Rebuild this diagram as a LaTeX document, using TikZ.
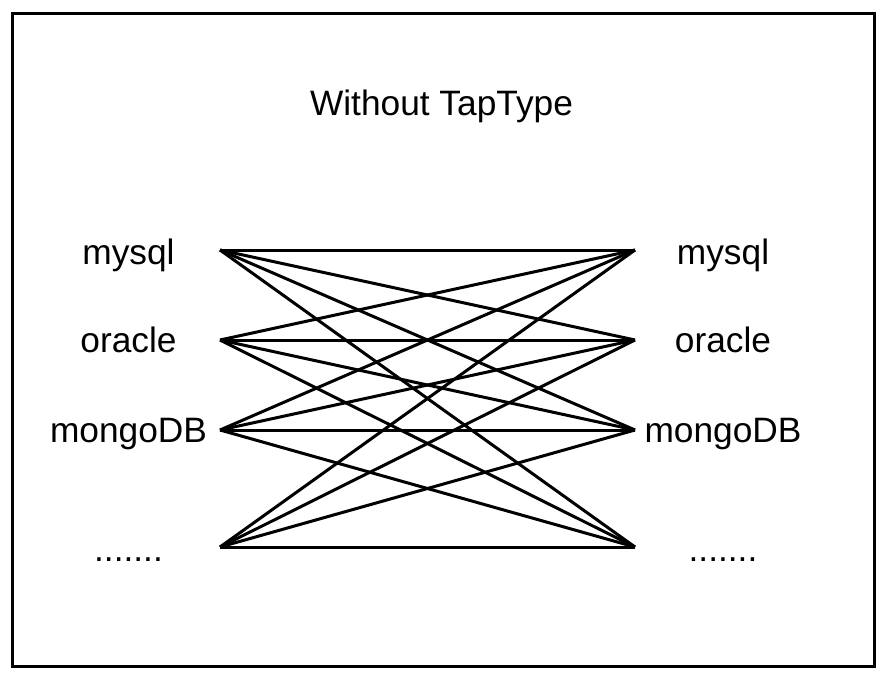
\documentclass[tikz,border=0pt]{standalone}
\usepackage{fontspec}
\setmainfont{Liberation Sans}
\newcommand{\moredots}{.......}
\begin{document}
\begin{tikzpicture}[x=1pt,y=-1pt,line width=3pt,
    lbl/.style={anchor=base,inner sep=0pt,font=\fontsize{35.3}{42}\selectfont}]
        \useasboundingbox (0,0) rectangle (886,680);
        \draw (12,13) rectangle (874,666);
        \node[lbl] (title) at (441.5,115) {Without TapType};
        % databases on both sides
        \foreach \i/\y/\b/\t in {1/250/264/mysql,2/340/352/oracle,3/430/442/mongoDB,4/547/561/\moredots}{
          \coordinate (L\i) at (220,\y);
          \coordinate (R\i) at (635,\y);
          \node[lbl] (left\i) at (128.5,\b) {\t};
          \node[lbl] (right\i) at (723,\b) {\t};
        }
        % every source to every target
        \foreach \i in {1,...,4}
          \foreach \j in {1,...,4}
            \draw (L\i) -- (R\j);
      \end{tikzpicture}
\end{document}
